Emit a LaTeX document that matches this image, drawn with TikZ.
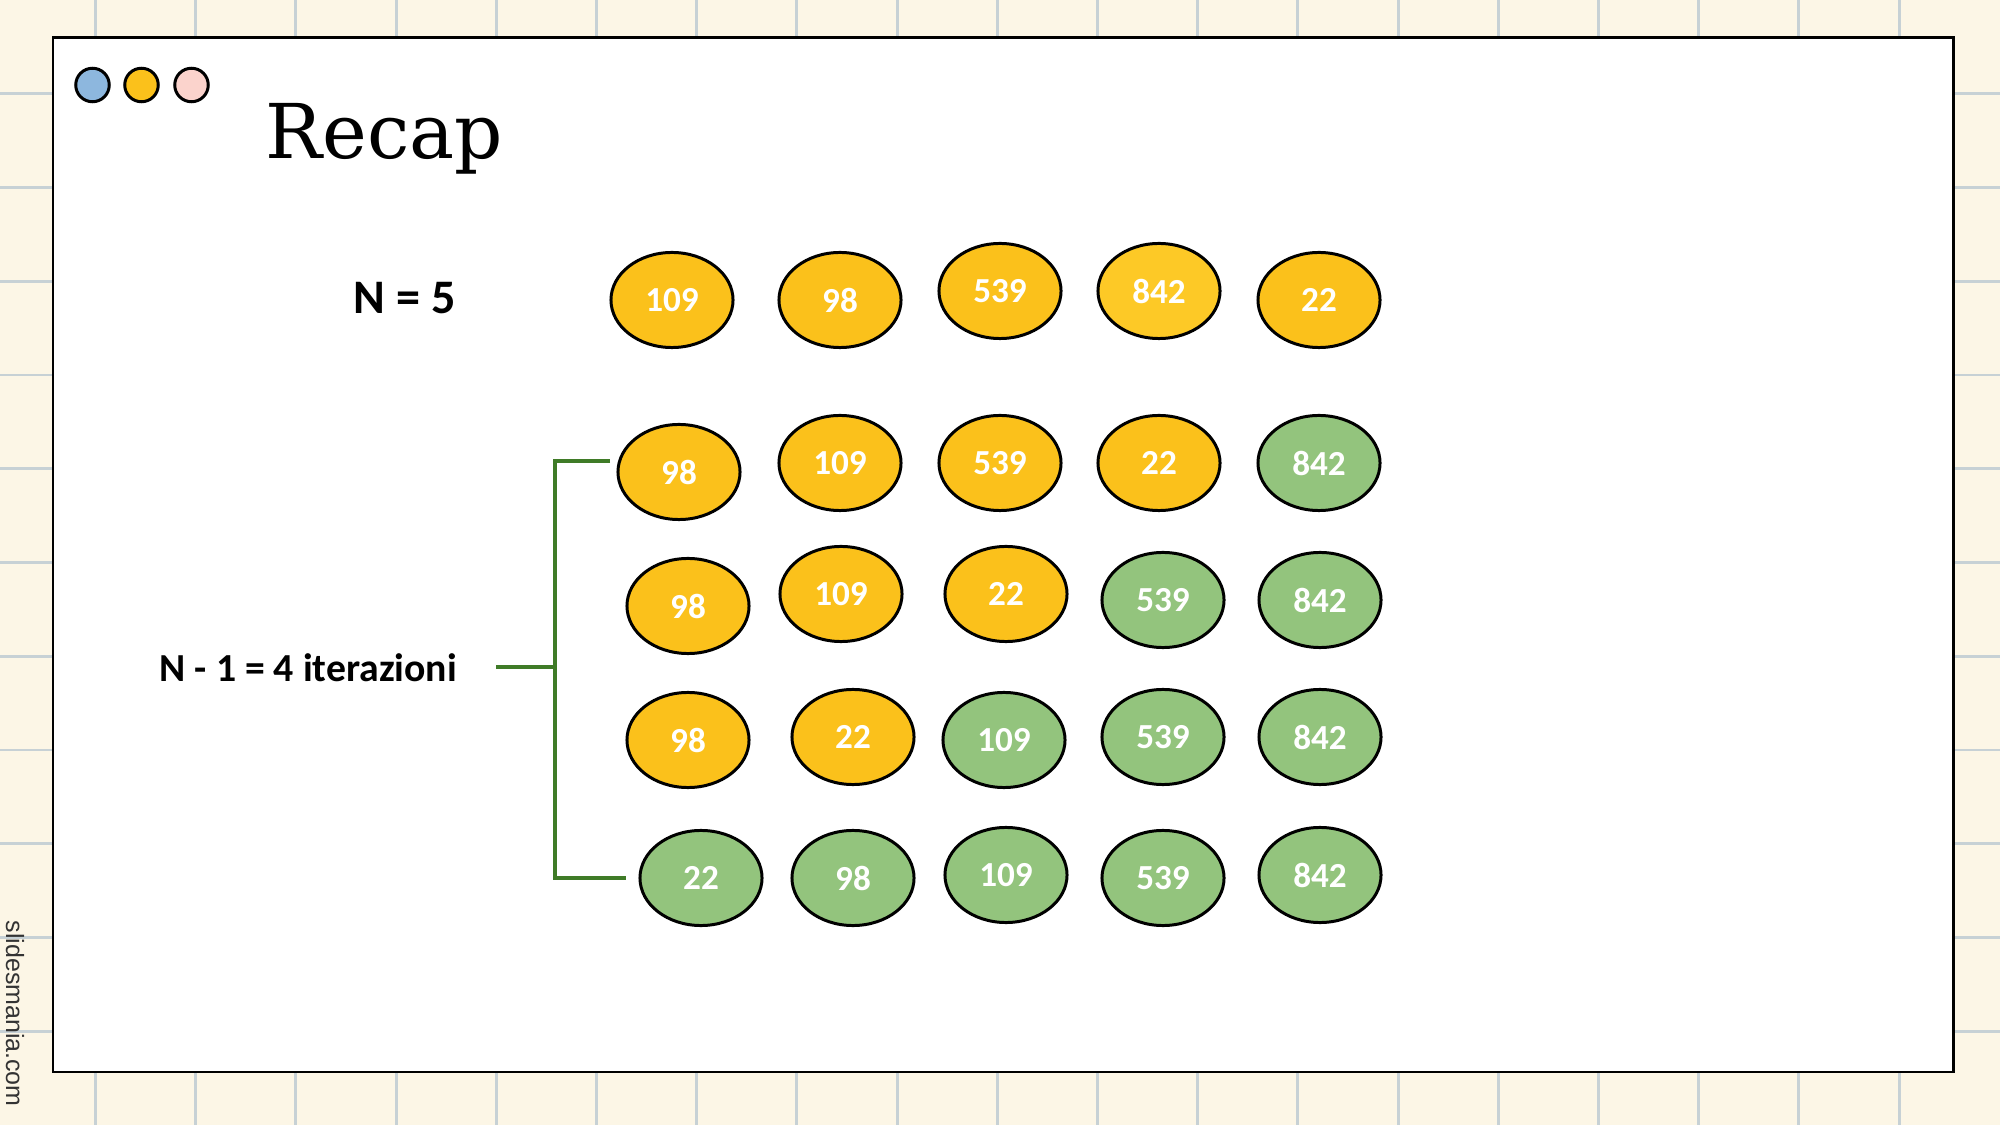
\documentclass[tikz,border=0pt]{standalone}
\usepackage{fontspec}
\usepackage{tikz}
\usetikzlibrary{shapes.geometric}
\newfontfamily\numfont{Carlito}
\newfontfamily\titlefont{DejaVu Serif}
\newfontfamily\sidefont{Liberation Sans}
\definecolor{paper}{HTML}{FCF6E6}
\definecolor{gridline}{HTML}{C7D1D5}
\definecolor{sunny}{HTML}{FBC11B}
\definecolor{sunnylight}{HTML}{FDC926}
\definecolor{leaf}{HTML}{93C47D}
\definecolor{stem}{HTML}{3F7B27}
\definecolor{dotblue}{HTML}{8DB7DE}
\definecolor{dotpink}{HTML}{FBD3CC}
\tikzset{
  cell/.style={ellipse,draw=black,line width=0.85pt,minimum width=1.22cm,minimum height=0.95cm,
    inner sep=0pt,text=white,font=\numfont\bfseries\fontsize{10pt}{12pt}\selectfont},
  windot/.style={circle,draw=black,line width=0.85pt,minimum size=0.335cm,inner sep=0pt},
  bracket/.style={draw=stem,line width=1.1pt},
  label/.style={inner sep=0pt,anchor=base west}
}
\begin{document}
\begin{tikzpicture}[x=0.01cm,y=-0.01cm]
  \useasboundingbox (0,0) rectangle (2000,1125);
  % background sheet
  \fill[paper] (0,0) rectangle (2000,1125);
  \foreach \i in {0,...,18}
    \draw[gridline,line width=0.85pt] (95.5+100.2*\i,0) -- (95.5+100.2*\i,1125);
  \foreach \j in {1,...,11}
    \draw[gridline,line width=0.85pt] (0,93.75*\j) -- (2000,93.75*\j);
  \draw[fill=white,line width=0.85pt] (53,38) rectangle (1953,1072);
  \node[windot,fill=dotblue] (dotA) at (92.5,85) {};
  \node[windot,fill=sunny] (dotB) at (141.5,85) {};
  \node[windot,fill=dotpink] (dotC) at (191.5,85) {};
  \node[label,font=\titlefont\fontsize{21.5pt}{26pt}\selectfont] (title) at (265,159) {Recap};
  \node[rotate=-90,inner sep=0pt,anchor=west,text=black!80,font=\sidefont\fontsize{7.1pt}{8pt}\selectfont]
    (brand) at (15,920) {slidesmania.com};
  % labels
  \node[label,font=\numfont\bfseries\fontsize{13.7pt}{16pt}\selectfont] (nlab) at (353,314) {N = 5};
  \node[label,font=\numfont\bfseries\fontsize{11.3pt}{14pt}\selectfont] (itlab) at (159,682) {N - 1 = 4 iterazioni};
  % rows
  \foreach \x/\y/\v/\s [count=\c] in {672/300/109/sunny,840/300/98/sunny,1000/291/539/sunny,1159/291/842/sunnylight,1319/300/22/sunny}
    \node[cell,fill=\s] (r0c\c) at (\x,\y) {\v};
  \foreach \x/\y/\v/\s [count=\c] in {679/472/98/sunny,840/463/109/sunny,1000/463/539/sunny,1159/463/22/sunny,1319/463/842/leaf}
    \node[cell,fill=\s] (r1c\c) at (\x,\y) {\v};
  \foreach \x/\y/\v/\s [count=\c] in {688/606/98/sunny,841/594/109/sunny,1006/594/22/sunny,1163/600/539/leaf,1320/600/842/leaf}
    \node[cell,fill=\s] (r2c\c) at (\x,\y) {\v};
  \foreach \x/\y/\v/\s [count=\c] in {688/740/98/sunny,853/737/22/sunny,1004/740/109/leaf,1163/737/539/leaf,1320/737/842/leaf}
    \node[cell,fill=\s] (r3c\c) at (\x,\y) {\v};
  \foreach \x/\y/\v/\s [count=\c] in {701/878/22/leaf,853/878/98/leaf,1006/875/109/leaf,1163/878/539/leaf,1320/875/842/leaf}
    \node[cell,fill=\s] (r4c\c) at (\x,\y) {\v};
  % bracket
  \coordinate (brtop) at (610,461);
  \coordinate (brmid) at (555,667);
  \coordinate (brbot) at (626,878);
  \coordinate (brin) at (496,667);
  \draw[bracket] (brtop) -| (brmid) |- (brbot);
  \draw[bracket] (brin) -- (brmid);
\end{tikzpicture}
\end{document}
